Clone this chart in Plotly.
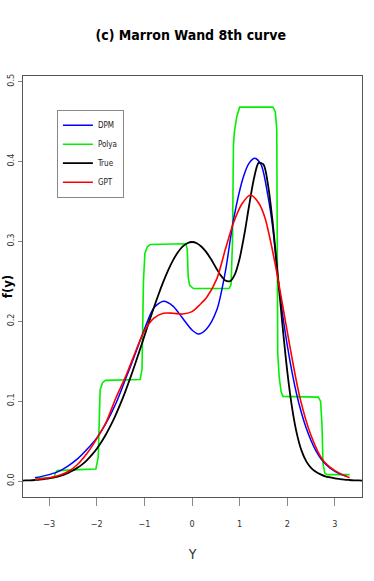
import plotly.graph_objects as go

# Marron-Wand 8th curve: density estimates
TRUE_X = [-3.6, -3.5, -3.4, -3.3, -3.2, -3.1, -3.0, -2.9, -2.8, -2.7, -2.6, -2.5, -2.4, -2.3, -2.2, -2.1,
          -2.0, -1.9, -1.8, -1.7, -1.6, -1.5, -1.4, -1.3, -1.2, -1.1, -1.0, -0.9, -0.8, -0.7, -0.6, -0.5,
          -0.4, -0.3, -0.2, -0.1, 0.0, 0.1, 0.2, 0.3, 0.4, 0.5, 0.6, 0.7, 0.8, 0.9, 1.0, 1.1, 1.2, 1.3,
          1.4, 1.5, 1.6, 1.7, 1.8, 1.9, 2.0, 2.1, 2.2, 2.3, 2.4, 2.5, 2.6, 2.7, 2.8, 2.9, 3.0, 3.1, 3.2,
          3.3, 3.4, 3.5, 3.6]
TRUE_Y = [0.0005, 0.0007, 0.0009, 0.0013, 0.0018, 0.0025, 0.0033, 0.0045, 0.0059, 0.0078, 0.0102, 0.0131,
          0.0168, 0.0212, 0.0266, 0.0330, 0.0405, 0.0492, 0.0592, 0.0705, 0.0832, 0.0971, 0.1123, 0.1285,
          0.1456, 0.1634, 0.1815, 0.1996, 0.2173, 0.2342, 0.2499, 0.2641, 0.2762, 0.2860, 0.2933, 0.2977,
          0.2992, 0.2977, 0.2933, 0.2865, 0.2775, 0.2674, 0.2577, 0.2510, 0.2503, 0.2588, 0.2786, 0.3090,
          0.3452, 0.3784, 0.3983, 0.3963, 0.3692, 0.3204, 0.2588, 0.1948, 0.1376, 0.0922, 0.0596, 0.0380,
          0.0246, 0.0164, 0.0115, 0.0083, 0.0059, 0.0045, 0.0033, 0.0025, 0.0018, 0.0013, 0.0009, 0.0007,
          0.0005]

DPM_X = [-3.3, -3.0, -2.8, -2.6, -2.4, -2.2, -2.0, -1.8, -1.6, -1.4, -1.2, -1.0, -0.8, -0.6, -0.4, -0.2,
         0.0, 0.13, 0.3, 0.52, 0.7, 0.87, 1.08, 1.2, 1.32, 1.45, 1.6, 1.7, 1.8, 2.0, 2.2, 2.4, 2.6, 2.72,
         2.9, 3.1, 3.24]
DPM_Y = [0.004, 0.008, 0.012, 0.019, 0.028, 0.040, 0.054, 0.073, 0.097, 0.127, 0.158, 0.190, 0.217, 0.225,
         0.219, 0.204, 0.189, 0.184, 0.190, 0.214, 0.262, 0.327, 0.381, 0.398, 0.404, 0.396, 0.355, 0.315,
         0.256, 0.170, 0.108, 0.066, 0.038, 0.027, 0.016, 0.009, 0.006]

GPT_X = [-3.3, -3.0, -2.8, -2.6, -2.4, -2.2, -2.0, -1.8, -1.6, -1.4, -1.2, -1.0, -0.8, -0.6, -0.4, -0.2,
         0.0, 0.17, 0.31, 0.52, 0.7, 0.87, 1.05, 1.23, 1.4, 1.53, 1.65, 1.79, 2.0, 2.26, 2.5, 2.75, 3.0, 3.31]
GPT_Y = [0.002, 0.004, 0.007, 0.012, 0.021, 0.035, 0.053, 0.074, 0.104, 0.130, 0.160, 0.188, 0.204, 0.210,
         0.210, 0.209, 0.212, 0.221, 0.230, 0.253, 0.290, 0.323, 0.347, 0.358, 0.348, 0.330, 0.300, 0.258,
         0.187, 0.106, 0.057, 0.026, 0.013, 0.004]

POLYA_X = [-3.28, -2.90, -2.87, -2.83, -2.5, -2.02, -1.97, -1.95, -1.93, -1.88, -1.82, -1.09, -1.05, -1.02,
           -0.99, -0.94, -0.88, -0.13, -0.10, -0.08, -0.05, 0.03, 0.78, 0.82, 0.85, 0.87, 0.89, 0.94, 1.0,
           1.70, 1.75, 1.78, 1.79, 1.80, 1.83, 1.87, 1.91, 2.65, 2.70, 2.73, 2.75, 2.79, 2.84, 3.31]
POLYA_Y = [0.0035, 0.004, 0.010, 0.013, 0.014, 0.015, 0.030, 0.090, 0.114, 0.123, 0.126, 0.127, 0.140, 0.250,
           0.285, 0.293, 0.296, 0.297, 0.290, 0.255, 0.245, 0.241, 0.241, 0.246, 0.300, 0.420, 0.437, 0.456,
           0.468, 0.468, 0.462, 0.440, 0.300, 0.160, 0.131, 0.112, 0.106, 0.105, 0.100, 0.070, 0.022, 0.0096,
           0.008, 0.008]

X_TICKS = [-3, -2, -1, 0, 1, 2, 3]
Y_TICKS = [0.0, 0.1, 0.2, 0.3, 0.4, 0.5]

NARROW = "Liberation Sans Narrow, DejaVu Sans Condensed, Arial Narrow, sans-serif"

fig = go.Figure()

fig.add_trace(go.Scatter(x=POLYA_X, y=POLYA_Y, name="Polya", mode="lines", legendrank=2,
                         line=dict(color="#00f000", width=1.6)))
fig.add_trace(go.Scatter(x=DPM_X, y=DPM_Y, name="DPM", mode="lines", legendrank=1,
                         line=dict(color="#0000ff", width=1.5, shape="spline", smoothing=0.8)))
fig.add_trace(go.Scatter(x=TRUE_X, y=TRUE_Y, name="True", mode="lines", legendrank=3,
                         line=dict(color="#000000", width=1.8, shape="spline", smoothing=0.8)))
fig.add_trace(go.Scatter(x=GPT_X, y=GPT_Y, name="GPT", mode="lines", legendrank=4,
                         line=dict(color="#ff0000", width=1.6, shape="spline", smoothing=0.8)))

fig.update_layout(
    width=374, height=581,
    paper_bgcolor="white", plot_bgcolor="white",
    margin=dict(l=23, r=12, t=76, b=84),
    title=dict(text="<b>(c) Marron Wand 8th curve</b>", x=0.51, xanchor="center", y=0.94, yanchor="middle",
               font=dict(family=NARROW, size=14, color="#000000")),
    showlegend=True,
    legend=dict(x=0.1, y=0.92, xanchor="left", yanchor="top", bgcolor="white",
                bordercolor="#888888", borderwidth=1, font=dict(family=NARROW, size=8, color="#222222"),
                traceorder="normal", itemwidth=30, tracegroupgap=0),
)
fig.update_xaxes(range=[-3.55, 3.57], tickvals=X_TICKS, ticks="outside", ticklen=8, tickcolor="#888888",
                 showgrid=False, zeroline=False, showline=True, mirror=True, linecolor="#555555",
                 automargin=False,
                 ticklabelstandoff=10, tickfont=dict(family=NARROW, size=9, color="#333333"),
                 title=dict(text="Y", standoff=21, font=dict(family=NARROW, size=14, color="#333333")))
fig.update_yaxes(range=[-0.02, 0.507], tickvals=Y_TICKS, ticktext=["0.0", "0.1", "0.2", "0.3", "0.4", "0.5"],
                 tickangle=-90, ticks="outside", ticklen=4, tickcolor="#888888",
                 showgrid=False, zeroline=False, showline=True, mirror=True, linecolor="#555555",
                 automargin=False,
                 tickfont=dict(family=NARROW, size=9, color="#333333"),
                 title=dict(text="<b>f(y)</b>", standoff=4, font=dict(family=NARROW, size=13, color="#000000")))

# page body has a default 8px margin; drop it so the figure sits at the window corner
fig.write_html("out.html", config={"displayModeBar": False},
               post_script="document.body.style.margin='0';")
